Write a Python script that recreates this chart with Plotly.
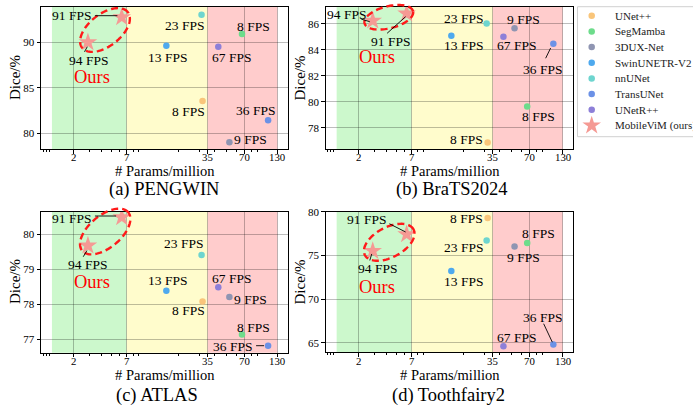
import numpy as np
import plotly.graph_objects as go

W, H = 693, 407
FONT = "Liberation Serif"

# ---------------- data ----------------
models = ["UNet++", "SegMamba", "3DUX-Net", "SwinUNETR-V2", "nnUNet", "TransUNet", "UNetR++"]
colors = ["#f9c57a", "#6ddc8b", "#8f95b2", "#4ea9ee", "#6ed5cf", "#6b91e6", "#8d7fd8"]
params = [31.7, 67.0, 52.8, 15.7, 31.1, 109.3, 42.8]          # million
fps = [8, 8, 9, 13, 23, 36, 67]

ours_name = "MobileViM (ours)"
ours_color = "#f59a94"
ours_params = [2.9, 6.3]
ours_fps = [94, 91]

titles = ["(a) PENGWIN", "(b) BraTS2024", "(c) ATLAS", "(d) Toothfairy2"]

dice_pengwin = [83.55, 90.91, 79.01, 89.63, 93.03, 81.43, 89.52]
ours_pengwin = [90.0, 92.75]
dice_brats = [76.87, 79.64, 85.64, 85.08, 86.02, 84.46, 85.0]
ours_brats = [86.23, 86.77]
dice_atlas = [78.07, 77.13, 78.2, 78.38, 79.4, 76.81, 78.48]
ours_atlas = [79.67, 80.48]
dice_tooth = [79.31, 76.44, 76.03, 73.23, 76.72, 64.8, 64.61]
ours_tooth = [75.53, 77.44]

dice = [dice_pengwin, dice_brats, dice_atlas, dice_tooth]
ours = [ours_pengwin, ours_brats, ours_atlas, ours_tooth]

y_ranges = [[78.27, 93.88], [76.38, 87.28], [76.61, 80.64], [63.92, 80.03]]
y_ticks = [[80, 85, 90], [78, 80, 82, 84, 86], [77, 78, 79, 80], [65, 70, 75, 80]]

x_ticks = [2, 7, 35, 70, 130]
x_minor = [0.7, 0.8, 0.9, 3, 4, 5, 6, 8, 9, 20, 30, 40, 50, 60, 80, 90]
x_lim = [0.633, 158.6]
regions = [(1, 7, "#ccf8cc"), (7, 35, "#fffccc"), (35, 130, "#ffcccc")]

# ---------------- styling / layout geometry (pixels) ----------------
panel_x = [(41, 288), (325.7, 573.3), (41, 288), (325.7, 573.3)]
panel_y = [(7, 149), (7, 149), (211.7, 352.7), (211.7, 352.2)]
xtick_label_y = [156.5, 156.5, 360.9, 360.9]

# label offsets (dx, dy) in screen pixels from the point, per panel, aligned with models
label_off = [
    [(-13.9, 10.7), (11, -7.3), (21.1, -2.3), (0.8, 12), (-17.3, 10.3), (-12.9, -9.3), (13.3, 11)],
    [(-21, -3.4), (11.3, 10), (8.7, -8.7), (12.3, 10), (-23, -5.4), (-11, 25.3), (12.6, 9)],
    [(-13.9, 9.3), (11, -7), (21.1, 2), (1.1, -10), (-18.3, -11.7), (-35.4, 1), (13.3, -8.3)],
    [(-21, 0.6), (11.3, -10), (8.7, 11.4), (12.3, 10.3), (-23, 7), (-11, -27.3), (12.8, -9)],
]
ours_label_off = [
    [(1, 18.4), (-50.6, -1.3)],
    [(-26.4, -6), (-15.7, 27.7)],
    [(-0.8, 18.6), (-50.6, 1.7)],
    [(4.6, 17.6), (-39.7, -14.7)],
]
ours_text_off = [(4.4, 35), (4.5, 36.3), (4.5, 36.6), (4.5, 36)]
# leader lines: (kind, index, start(dx,dy), end(dx,dy))
leaders = [
    [("o", 1, (-4.3, -1.6), (-28.3, -1.6)), ("o", 0, (-0.6, 4.4), (-4.3, 11))],
    [("o", 0, (-3, 1), (-13, -2)), ("o", 1, (-1, 3), (-21, 21)), ("m", 5, (-2.7, 4.3), (-8.4, 16))],
    [("o", 1, (-5.6, -1.3), (-28.3, -1.3)), ("o", 0, (-1, 5), (-5.6, 12.6)), ("m", 5, (-4, 0), (-13.5, 0))],
    [("o", 1, (-1, -2.3), (-18.7, -11.3)), ("o", 0, (-1, 3), (-3.4, 11)), ("m", 5, (-1, -2.3), (-10.4, -22.3))],
]
# ellipses: centre (px, absolute), semi axes, angle (deg)
ellipses = [((105.0, 30.0), 29, 16, 38), ((388.8, 17.3), 25, 11, 14),
            ((105.2, 231.5), 30, 16, 40), ((389.2, 242.3), 27.5, 15, 28)]
title_pos = [(163.8, 189.6), (451.5, 189.6), (157, 395.3), (448.2, 395.6)]
xlabel_pos = [(164.5, 170.6), (449.5, 170.6), (164.5, 375.4), (449.5, 375.4)]
ylabel_pos = [(15, 78), (299.5, 78), (15, 282), (299.5, 282)]

grid_col = "rgba(0,0,0,0.26)"


def lg(p):
    return float(np.log10(p + 1))


fig = go.Figure()
layout = dict(width=W, height=H, margin=dict(l=0, r=0, t=0, b=0),
              paper_bgcolor="white", plot_bgcolor="white", showlegend=False,
              font=dict(family=FONT, color="black"))
annotations = []
shapes = []

for i in range(4):
    sfx = "" if i == 0 else str(i + 1)
    xn, yn = "x" + sfx, "y" + sfx
    x0p, x1p = panel_x[i]
    y0p, y1p = panel_y[i]
    layout["xaxis" + sfx] = dict(
        type="log", domain=[x0p / W, x1p / W], anchor=yn,
        range=[lg(x_lim[0]), lg(x_lim[1])],
        tickmode="array", tickvals=[t + 1 for t in x_ticks], showticklabels=False,
        ticks="outside", ticklen=3.5, tickwidth=0.8, tickcolor="black",
        showline=True, linecolor="black", linewidth=1, mirror=True,
        showgrid=True, gridcolor=grid_col, gridwidth=0.9, zeroline=False,
        minor=dict(tickmode="array", tickvals=[m + 1 for m in x_minor], ticks="outside",
                   ticklen=2, tickwidth=0.6, tickcolor="black", showgrid=False),
        automargin=False, fixedrange=True)
    layout["yaxis" + sfx] = dict(
        domain=[1 - y1p / H, 1 - y0p / H], anchor=xn, range=y_ranges[i],
        tickmode="array", tickvals=y_ticks[i],
        ticks="outside", ticklen=3.5, tickwidth=0.8, tickcolor="black",
        showline=True, linecolor="black", linewidth=1, mirror=True,
        showgrid=True, gridcolor=grid_col, gridwidth=0.9, zeroline=False,
        tickfont=dict(family=FONT, size=11, color="black"), automargin=False, fixedrange=True)

    # x tick labels (placed right under the axis)
    for tv in x_ticks:
        annotations.append(dict(x=lg(tv), y=1 - xtick_label_y[i] / H, xref=xn, yref="paper",
                                text=str(tv), showarrow=False, xanchor="center", yanchor="middle",
                                font=dict(family=FONT, size=10.8, color="black")))

    # shaded parameter regions
    for lo, hi, c in regions:
        shapes.append(dict(type="rect", xref=xn, yref=yn + " domain", x0=lo + 1, x1=hi + 1,
                           y0=0, y1=1, fillcolor=c, line=dict(width=0), layer="below"))

    # dashed ellipse around ours
    (cx, cy), a, b, th = ellipses[i]
    t = np.linspace(0, 2 * np.pi, 90)
    thr = np.deg2rad(th)
    ex = cx + a * np.cos(t) * np.cos(thr) - b * np.sin(t) * np.sin(thr)
    ey = cy - (a * np.cos(t) * np.sin(thr) + b * np.sin(t) * np.cos(thr))
    path = "M " + " L ".join(f"{px / W:.5f},{1 - py / H:.5f}" for px, py in zip(ex, ey)) + " Z"
    shapes.append(dict(type="path", xref="paper", yref="paper", path=path,
                       line=dict(color="#ff1a1a", width=2.4, dash="7px,4px"), layer="above"))

    # points
    fig.add_trace(go.Scatter(x=[p + 1 for p in params], y=dice[i], mode="markers",
                             marker=dict(color=colors, size=6.5, line=dict(width=0)),
                             xaxis=xn, yaxis=yn, hoverinfo="skip"))
    fig.add_trace(go.Scatter(x=[p + 1 for p in ours_params], y=ours[i], mode="markers",
                             marker=dict(color=ours_color, size=14, symbol="star", line=dict(width=0)),
                             xaxis=xn, yaxis=yn, hoverinfo="skip"))

    # FPS labels
    for j, m in enumerate(models):
        dx, dy = label_off[i][j]
        annotations.append(dict(x=lg(params[j]), y=dice[i][j], xref=xn, yref=yn,
                                text=f"{fps[j]} FPS", showarrow=False, xanchor="center", yanchor="middle",
                                xshift=dx, yshift=-dy, font=dict(family=FONT, size=13.5, color="black")))
    for k in range(2):
        dx, dy = ours_label_off[i][k]
        annotations.append(dict(x=lg(ours_params[k]), y=ours[i][k], xref=xn, yref=yn,
                                text=f"{ours_fps[k]} FPS", showarrow=False, xanchor="center", yanchor="middle",
                                xshift=dx, yshift=-dy, font=dict(family=FONT, size=13.5, color="black")))
    dx, dy = ours_text_off[i]
    annotations.append(dict(x=lg(ours_params[0]), y=ours[i][0], xref=xn, yref=yn,
                            text="Ours", showarrow=False, xanchor="center", yanchor="middle",
                            xshift=dx, yshift=-dy, font=dict(family=FONT, size=18.5, color="#ff0000")))
    # leader lines
    for kind, idx, (sx, sy), (ex_, ey_) in leaders[i]:
        if kind == "o":
            px_, py_ = ours_params[idx], ours[i][idx]
        else:
            px_, py_ = params[idx], dice[i][idx]
        annotations.append(dict(x=lg(px_), y=py_, xref=xn, yref=yn, text="", showarrow=True,
                                arrowhead=0, arrowwidth=0.9, arrowcolor="black", standoff=0,
                                ax=ex_ - sx, ay=ey_ - sy, xshift=sx, yshift=-sy))

    # titles
    tx, ty = title_pos[i]
    annotations.append(dict(x=tx / W, y=1 - ty / H, xref="paper", yref="paper", text=titles[i],
                            showarrow=False, xanchor="center", yanchor="middle",
                            font=dict(family=FONT, size=18.5, color="black")))
    tx, ty = xlabel_pos[i]
    annotations.append(dict(x=tx / W, y=1 - ty / H, xref="paper", yref="paper", text="# Params/million",
                            showarrow=False, xanchor="center", yanchor="middle",
                            font=dict(family=FONT, size=14.5, color="black")))
    tx, ty = ylabel_pos[i]
    annotations.append(dict(x=tx / W, y=1 - ty / H, xref="paper", yref="paper", text="Dice/%",
                            showarrow=False, xanchor="center", yanchor="middle", textangle=-90,
                            font=dict(family=FONT, size=15, color="black")))

# ---------------- custom legend ----------------
leg_left, leg_top, leg_bot = 577.5, 6.7, 136.7
layout["xaxis5"] = dict(domain=[leg_left / W, 1], anchor="y5", range=[0, W - leg_left],
                        visible=False, fixedrange=True)
layout["yaxis5"] = dict(domain=[1 - leg_bot / H, 1 - leg_top / H], anchor="x5",
                        range=[leg_bot - leg_top, 0], visible=False, fixedrange=True)
shapes.append(dict(type="rect", xref="paper", yref="paper", x0=leg_left / W, x1=1.05,
                   y0=1 - leg_bot / H, y1=1 - leg_top / H, fillcolor="white",
                   line=dict(color="#d0d0d0", width=1), layer="below"))
leg_names = models + [ours_name]
leg_colors = colors + [ours_color]
leg_y = [9.0 + 15.68 * k for k in range(len(leg_names))]
fig.add_trace(go.Scatter(x=[14.2] * 7, y=leg_y[:7], mode="markers",
                         marker=dict(color=colors, size=6.5), xaxis="x5", yaxis="y5", hoverinfo="skip"))
fig.add_trace(go.Scatter(x=[14.2], y=[leg_y[7]], mode="markers",
                         marker=dict(color=ours_color, size=14, symbol="star"),
                         xaxis="x5", yaxis="y5", hoverinfo="skip"))
for k, nm in enumerate(leg_names):
    annotations.append(dict(x=35.8, y=leg_y[k], xref="x5", yref="y5", text=nm, showarrow=False,
                            xanchor="left", yanchor="middle",
                            font=dict(family=FONT, size=11, color="#222222")))

layout["annotations"] = annotations
layout["shapes"] = shapes
fig.update_layout(**layout)
fig.write_html("out.html", config={"displayModeBar": False},
               post_script="document.body.style.margin='0';document.body.style.padding='0';document.body.style.overflow='hidden';")
